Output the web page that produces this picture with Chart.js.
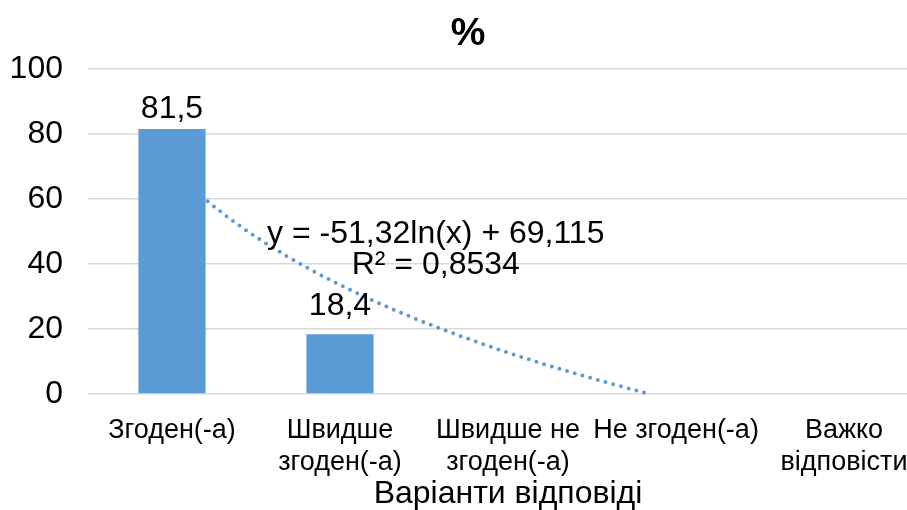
<!DOCTYPE html>
<html>
<head>
<meta charset="utf-8">
<script src="https://cdn.jsdelivr.net/npm/chart.js@4"></script>
<style>
    html, body { margin: 0; padding: 0; overflow: hidden; background: #fff; }
    canvas { display: block; }
</style>
</head>
<body>
<canvas id="chart" width="930" height="510"></canvas>
<script>
const categories = ['Згоден(-а)', ['Швидше', 'згоден(-а)'], ['Швидше не', 'згоден(-а)'], 'Не згоден(-а)', ['Важко', 'відповісти']];
const percentValues = [81.5, 18.4, 0, 0, 0];
const yTicks = [0, 20, 40, 60, 80, 100];
const trendSlope = -51.32;
const trendIntercept = 69.115;
const trendLabel = ['y = -51,32ln(x) + 69,115', 'R² = 0,8534'];

const FONT = '"Liberation Sans", Arial, sans-serif';
const BAR_COLOR = '#5B9BD5';

Chart.defaults.font.family = FONT;
Chart.defaults.color = '#000';

// log trendline, drawn under the bars, clipped to the plot area
const trendlinePlugin = {
    id: 'trendline',
    beforeDatasetsDraw(chart) {
        const { ctx, chartArea, scales } = chart;
        const x = scales.x;
        const y = scales.y;
        const last = categories.length - 1;

        ctx.save();
        ctx.beginPath();
        ctx.rect(chartArea.left, chartArea.top, chartArea.right - chartArea.left, chartArea.bottom - chartArea.top + 1);
        ctx.clip();

        ctx.beginPath();
        let started = false;
        for (let i = 0; i <= last; i += 0.01) {
            const v = trendSlope * Math.log(i + 1) + trendIntercept;
            if (v < 0) break;
            const px = x.getPixelForValue(i);
            const py = y.getPixelForValue(v);
            if (!started) {
                ctx.moveTo(px, py);
                started = true;
            } else {
                ctx.lineTo(px, py);
            }
        }
        ctx.strokeStyle = BAR_COLOR;
        ctx.lineWidth = 4;
        ctx.lineCap = 'round';
        ctx.setLineDash([0, 8]);
        ctx.stroke();
        ctx.restore();
    },
    afterDatasetsDraw(chart) {
        const { ctx, scales } = chart;
        const cx = scales.x.getPixelForValue(1.57);
        const cy = scales.y.getPixelForValue(49);

        ctx.save();
        ctx.font = `32px ${FONT}`;
        ctx.fillStyle = '#000';
        ctx.textAlign = 'center';
        ctx.textBaseline = 'middle';
        trendLabel.forEach((line, i) => ctx.fillText(line, cx, cy + i * 31));
        ctx.restore();
    },
};

const barLabelPlugin = {
    id: 'barLabels',
    afterDatasetsDraw(chart) {
        const { ctx } = chart;
        const meta = chart.getDatasetMeta(0);
        const gaps = [11, 19];

        ctx.save();
        ctx.font = `32px ${FONT}`;
        ctx.fillStyle = '#000';
        ctx.textAlign = 'center';
        ctx.textBaseline = 'alphabetic';
        meta.data.forEach((bar, i) => {
            const value = percentValues[i];
            if (!value) return;
            ctx.fillText(String(value).replace('.', ','), bar.x, bar.y - (gaps[i] ?? 12));
        });
        ctx.restore();
    },
};

new Chart(document.getElementById('chart'), {
    type: 'bar',
    data: {
        labels: categories,
        datasets: [{
            label: '%',
            data: percentValues,
            backgroundColor: BAR_COLOR,
            borderWidth: 0,
            categoryPercentage: 1,
            barPercentage: 0.4,
        }],
    },
    options: {
        responsive: false,
        animation: false,
        devicePixelRatio: 1,
        layout: { padding: { left: 8, right: 2, top: 0, bottom: 0 } },
        plugins: {
            legend: { display: false },
            tooltip: { enabled: false },
            title: {
                display: true,
                text: '%',
                color: '#000',
                font: { size: 39, weight: 'bold', lineHeight: 1.2 },
                padding: { top: 11, bottom: 11 },
            },
        },
        scales: {
            x: {
                grid: { display: false },
                border: { display: false },
                ticks: {
                    color: '#000',
                    autoSkip: false,
                    maxRotation: 0,
                    padding: 12,
                    font: { size: 27, lineHeight: 1.19 },
                },
                title: {
                    display: true,
                    text: 'Варіанти відповіді',
                    color: '#000',
                    font: { size: 32, lineHeight: 1 },
                    padding: { top: 0, bottom: 0 },
                },
                afterFit: (scale) => { scale.height = 116; },
            },
            y: {
                min: 0,
                max: 100,
                afterBuildTicks: (scale) => { scale.ticks = yTicks.map((value) => ({ value })); },
                grid: { color: '#D9D9D9', lineWidth: 1.5, drawTicks: false },
                border: { display: false },
                ticks: {
                    color: '#000',
                    padding: 25,
                    font: { size: 32 },
                },
                afterFit: (scale) => { scale.width = 80; },
            },
        },
    },
    plugins: [trendlinePlugin, barLabelPlugin],
});
</script>
</body>
</html>
